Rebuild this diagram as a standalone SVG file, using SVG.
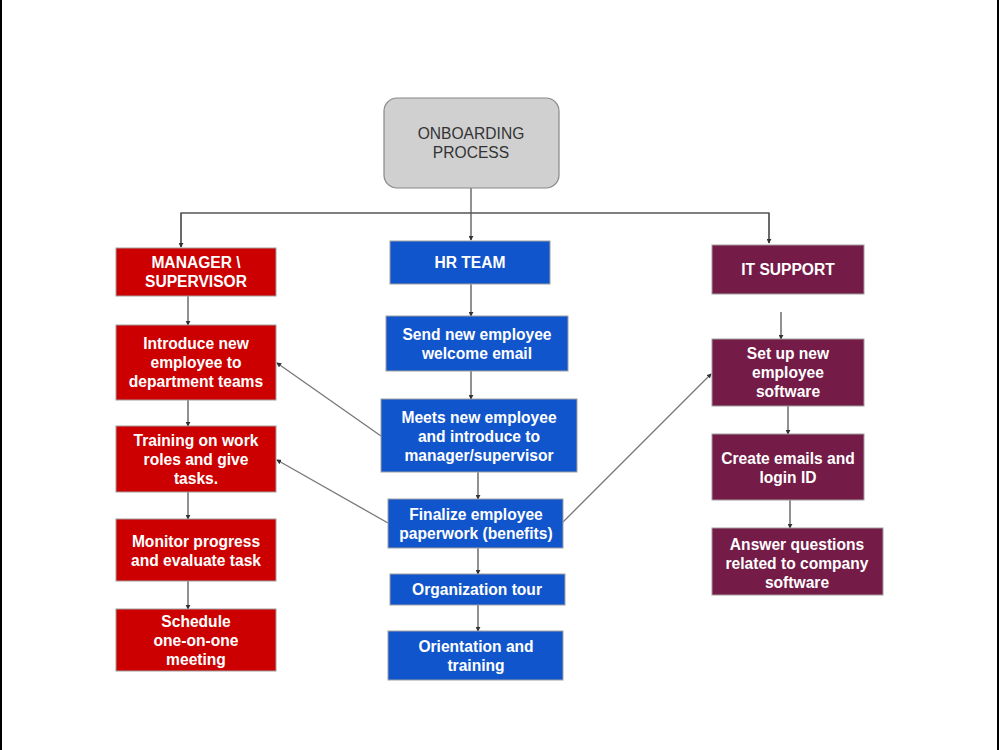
<svg xmlns="http://www.w3.org/2000/svg" width="1000" height="750" viewBox="0 0 1000 750">
<defs>
<marker id="ah" viewBox="0 0 6 6" refX="5" refY="3" markerWidth="5" markerHeight="5" orient="auto" markerUnits="userSpaceOnUse">
<path d="M0,0 L6,3 L0,6 z" fill="#333"/>
</marker>
</defs>
<style>
.red{fill:#cc0000;stroke:#a0a0a0;stroke-width:1}
.blue{fill:#1155cc;stroke:#a0a0a0;stroke-width:1}
.mar{fill:#741b47;stroke:#a0a0a0;stroke-width:1}
.t{font-family:"Liberation Sans",Arial,sans-serif;font-size:15.6px;font-weight:bold;fill:#fff;text-anchor:middle}
.t2{font-family:"Liberation Sans",Arial,sans-serif;font-size:15.6px;fill:#333;text-anchor:middle}
.c{fill:none;stroke:#555;stroke-width:1.3;marker-end:url(#ah)}
.d{fill:none;stroke:#777;stroke-width:1.3;marker-end:url(#ah)}
</style>
<rect x="0" y="0" width="1000" height="750" fill="#fff"/>
<rect x="0" y="0" width="2" height="750" fill="#000"/>
<rect x="997" y="0" width="2" height="750" fill="#000"/>
<g id="connectors">
<path class="c" d="M181,247 V213 H769 V243" style="marker-end:none"/>
<path class="c" d="M181,213 V247"/>
<path class="c" d="M471,188 V240"/>
<path class="c" d="M769,213 V243"/>
<path class="c" d="M188,296 V325"/>
<path class="c" d="M188,400 V426"/>
<path class="c" d="M188,492 V519"/>
<path class="c" d="M188,581 V609"/>
<path class="c" d="M471,284 V316"/>
<path class="c" d="M471,371 V399"/>
<path class="c" d="M478,472 V499"/>
<path class="c" d="M478,548 V574"/>
<path class="c" d="M478,605 V631"/>
<path class="c" d="M781,312 V339"/>
<path class="c" d="M788,406 V434"/>
<path class="c" d="M790,500 V528"/>
<path class="d" d="M381,436 L277,363"/>
<path class="d" d="M388,523 L277,460"/>
<path class="d" d="M563,522 L711,374"/>
</g>
<g id="onboarding">
<rect x="384" y="98" width="175" height="90" rx="13" fill="#d0d0d0" stroke="#888" stroke-width="1.2"/>
<text class="t2" x="471" y="139">ONBOARDING</text>
<text class="t2" x="471" y="158">PROCESS</text>
</g>
<g id="manager">
<rect class="red" x="116" y="248" width="160" height="48"/>
<text class="t" x="196" y="268">MANAGER \</text>
<text class="t" x="196" y="287">SUPERVISOR</text>
</g>
<g id="hr">
<rect class="blue" x="390" y="241" width="160" height="43"/>
<text class="t" x="470" y="268">HR TEAM</text>
</g>
<g id="it">
<rect class="mar" x="712" y="245" width="152" height="49"/>
<text class="t" x="788" y="275">IT SUPPORT</text>
</g>
<g id="introduce">
<rect class="red" x="116" y="325" width="160" height="75"/>
<text class="t" x="196" y="349">Introduce new</text>
<text class="t" x="196" y="368">employee to</text>
<text class="t" x="196" y="387">department teams</text>
</g>
<g id="training">
<rect class="red" x="116" y="426" width="160" height="66"/>
<text class="t" x="196" y="446">Training on work</text>
<text class="t" x="196" y="465">roles and give</text>
<text class="t" x="196" y="484">tasks.</text>
</g>
<g id="monitor">
<rect class="red" x="116" y="519" width="160" height="62"/>
<text class="t" x="196" y="547">Monitor progress</text>
<text class="t" x="196" y="566">and evaluate task</text>
</g>
<g id="schedule">
<rect class="red" x="116" y="609" width="160" height="62"/>
<text class="t" x="196" y="627">Schedule</text>
<text class="t" x="196" y="646">one-on-one</text>
<text class="t" x="196" y="665">meeting</text>
</g>
<g id="send">
<rect class="blue" x="386" y="316" width="182" height="55"/>
<text class="t" x="477" y="340">Send new employee</text>
<text class="t" x="477" y="359">welcome email</text>
</g>
<g id="meets">
<rect class="blue" x="381" y="399" width="196" height="73"/>
<text class="t" x="479" y="423">Meets new employee</text>
<text class="t" x="479" y="442">and introduce to</text>
<text class="t" x="479" y="461">manager/supervisor</text>
</g>
<g id="finalize">
<rect class="blue" x="388" y="499" width="175" height="49"/>
<text class="t" x="476" y="520">Finalize employee</text>
<text class="t" x="476" y="539">paperwork (benefits)</text>
</g>
<g id="tour">
<rect class="blue" x="390" y="574" width="175" height="31"/>
<text class="t" x="477" y="595">Organization tour</text>
</g>
<g id="orientation">
<rect class="blue" x="388" y="631" width="175" height="49"/>
<text class="t" x="476" y="652">Orientation and</text>
<text class="t" x="476" y="671">training</text>
</g>
<g id="setup">
<rect class="mar" x="712" y="339" width="152" height="67"/>
<text class="t" x="788" y="359">Set up new</text>
<text class="t" x="788" y="378">employee</text>
<text class="t" x="788" y="397">software</text>
</g>
<g id="create">
<rect class="mar" x="712" y="434" width="152" height="66"/>
<text class="t" x="788" y="464">Create emails and</text>
<text class="t" x="788" y="483">login ID</text>
</g>
<g id="answer">
<rect class="mar" x="712" y="528" width="171" height="67"/>
<text class="t" x="797" y="550">Answer questions</text>
<text class="t" x="797" y="569">related to company</text>
<text class="t" x="797" y="588">software</text>
</g>
</svg>
